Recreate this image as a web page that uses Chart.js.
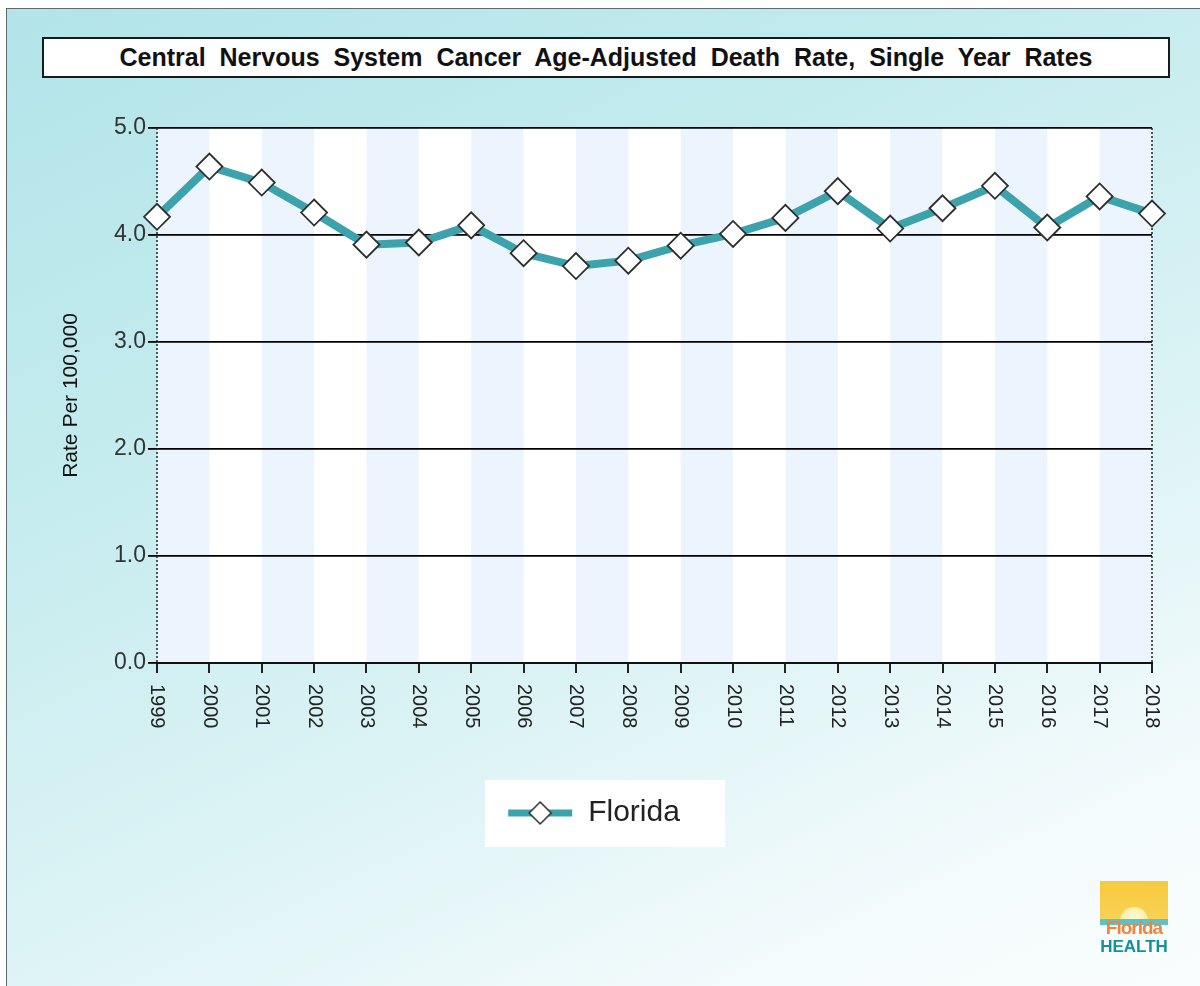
<!DOCTYPE html>
<html>
<head>
<meta charset="utf-8">
<script src="https://cdn.jsdelivr.net/npm/chart.js@4.4.1/dist/chart.umd.min.js"></script>
<style>
  html, body { margin:0; padding:0; width:1200px; height:986px; overflow:hidden; background:#fff; }
  #frame { position:absolute; left:6px; top:8px; width:1210px; height:1000px; border:1px solid #5d6b6e;
    background: linear-gradient(155deg, #b2e4e9 0%, #c3ebee 30%, #dcf3f5 60%, #f4fbfc 85%, #fafdfd 100%); }
  #c { position:absolute; left:0; top:0; z-index:1; }
  #title { position:absolute; left:42px; top:37px; width:1128px; height:41px; box-sizing:border-box;
    border:2px solid #1a1a1a; background:#fff; z-index:2; text-align:center; color:#111;
    font: bold 25px 'Liberation Sans', Arial, sans-serif; line-height:37px; word-spacing:7px; }
  #logo { position:absolute; left:1100px; top:881px; width:68px; height:78px; z-index:2; }
  #logo .sq { position:absolute; left:0; top:0; width:68px; height:44px; overflow:hidden;
    background: linear-gradient(180deg, #f7c93c 0%, #f9d45a 100%); }
  #logo .sun { position:absolute; left:20px; top:26px; width:28px; height:28px; border-radius:50%;
    background: radial-gradient(circle, #fffbe8 0%, #fff1b0 60%, #fbe08a 100%); }
  #logo .sea { position:absolute; left:0; top:38px; width:68px; height:6px; background:#58c3cf; }
  #logo .t1 { position:absolute; left:0; top:37px; width:68px; text-align:center; color:#f0843c;
    font: bold 19px 'Liberation Sans Narrow', 'Liberation Sans', Arial, sans-serif; letter-spacing:-1px; line-height:20px; }
  #logo .t2 { position:absolute; left:0; top:57px; width:68px; text-align:center; color:#13909a;
    font: bold 17px 'Liberation Sans Narrow', 'Liberation Sans', Arial, sans-serif; line-height:18px; }
</style>
</head>
<body>
<div id="frame"></div>
<div id="title">Central Nervous System Cancer Age-Adjusted Death Rate, Single Year Rates</div>
<canvas id="c" width="1200" height="986"></canvas>
<div id="logo"><div class="sq"><div class="sun"></div><div class="sea"></div></div><div class="t1">Florida</div><div class="t2">HEALTH</div></div>
<script>
// ---- data ----
const years = ['1999','2000','2001','2002','2003','2004','2005','2006','2007','2008',
               '2009','2010','2011','2012','2013','2014','2015','2016','2017','2018'];
const floridaRates = [4.17, 4.64, 4.49, 4.21, 3.91, 3.93, 4.09, 3.83, 3.71, 3.76,
                      3.90, 4.01, 4.16, 4.41, 4.06, 4.25, 4.46, 4.07, 4.36, 4.20];
const yTickValues = [0, 1, 2, 3, 4, 5];
const seriesName = 'Florida';
const yAxisTitle = 'Rate Per 100,000';

// ---- styles ----
const FONT = "'Liberation Sans', Arial, sans-serif";
const LINE_COLOR = '#3ca3ad';
const MARK_BORDER = '#2e2e2e';
const STRIPE = '#ecf4fd';
const LEG_FS = 30, LEG_PAD = 20, LEG_W = 101;

function legendGlyph() {
  const c = document.createElement('canvas');
  c.width = LEG_W; c.height = 30;
  const g = c.getContext('2d');
  g.strokeStyle = LINE_COLOR; g.lineWidth = 7;
  g.beginPath(); g.moveTo(36, 15); g.lineTo(100, 15); g.stroke();
  g.beginPath(); g.moveTo(68, 4); g.lineTo(79, 15); g.lineTo(68, 26); g.lineTo(57, 15); g.closePath();
  g.fillStyle = '#fff'; g.fill(); g.strokeStyle = MARK_BORDER; g.lineWidth = 1.5; g.stroke();
  return c;
}
const glyph = legendGlyph();

function dotted(ctx, x, y0, y1) {
  ctx.save();
  ctx.strokeStyle = '#222'; ctx.lineWidth = 1.5; ctx.setLineDash([2, 2]);
  ctx.beginPath(); ctx.moveTo(x, y0); ctx.lineTo(x, y1); ctx.stroke();
  ctx.restore();
}

const decor = {
  id: 'decor',
  beforeDraw(chart) {
    const {ctx, chartArea: a, scales: {x}} = chart;
    ctx.save();
    ctx.fillStyle = '#fff';
    ctx.fillRect(a.left, a.top, a.right - a.left, a.bottom - a.top);
    ctx.fillStyle = STRIPE;
    for (let i = 0; i < years.length - 1; i += 2) {
      const x0 = x.getPixelForValue(i), x1 = x.getPixelForValue(i + 1);
      ctx.fillRect(x0, a.top, x1 - x0, a.bottom - a.top);
    }
    // legend background box
    const lg = chart.legend;
    ctx.font = LEG_FS + 'px ' + FONT;
    const tw = ctx.measureText(seriesName).width;
    const lineW = LEG_W + LEG_FS / 2 + tw + LEG_PAD;
    const cx = (lg.left + LEG_PAD + lg.right - lineW) / 2;
    const textStart = cx + LEG_W + LEG_FS / 2;
    ctx.fillStyle = '#fff';
    ctx.fillRect(textStart - 103, lg.top + 2, 240, 67);
    ctx.restore();
  },
  beforeDatasetsDraw(chart) {
    const {ctx, chartArea: a} = chart;
    dotted(ctx, a.left, a.top, a.bottom);
    dotted(ctx, a.right, a.top, a.bottom);
  },
  afterDraw(chart) {
    const {ctx, chartArea: a, scales: {x}} = chart;
    ctx.save();
    // x tick labels, rotated to read top-to-bottom
    ctx.fillStyle = '#222';
    ctx.font = '20px ' + FONT;
    ctx.textAlign = 'left'; ctx.textBaseline = 'middle';
    years.forEach((lab, i) => {
      const px = x.getPixelForValue(i);
      ctx.save();
      ctx.translate(px, a.bottom + 21);
      ctx.rotate(Math.PI / 2);
      ctx.fillText(lab, 0, 0);
      ctx.restore();
    });
    ctx.restore();
  }
};

new Chart(document.getElementById('c'), {
  type: 'line',
  data: {
    labels: years,
    datasets: [{
      label: seriesName,
      data: floridaRates,
      borderColor: LINE_COLOR,
      borderWidth: 8,
      tension: 0,
      pointStyle: 'rectRot',
      pointRadius: 13,
      pointBackgroundColor: '#fff',
      pointBorderColor: MARK_BORDER,
      pointBorderWidth: 1.8,
      clip: false
    }]
  },
  options: {
    responsive: false,
    animation: false,
    layout: { padding: { left: 0, top: 128, right: 48, bottom: 148 } },
    plugins: {
      tooltip: { enabled: false },
      legend: {
        position: 'bottom',
        labels: {
          usePointStyle: true,
          pointStyleWidth: LEG_W,
          padding: LEG_PAD,
          color: '#222',
          font: { family: FONT, size: LEG_FS },
          generateLabels: () => [{ text: seriesName, pointStyle: glyph, fontColor: '#222',
            fillStyle: 'rgba(0,0,0,0)', strokeStyle: 'rgba(0,0,0,0)', lineWidth: 0, hidden: false, datasetIndex: 0 }]
        }
      }
    },
    scales: {
      x: {
        offset: false,
        grid: { drawOnChartArea: false, drawTicks: true, tickLength: 10, color: '#222', lineWidth: 2 },
        border: { color: '#111', width: 2 },
        ticks: { display: false },
        afterFit: s => { s.height = 115; }
      },
      y: {
        min: yTickValues[0],
        max: yTickValues[yTickValues.length - 1],
        afterBuildTicks: s => { s.ticks = yTickValues.map(v => ({ value: v })); },
        grid: { color: '#000', lineWidth: 1.8, drawTicks: true, tickLength: 9 },
        border: { display: false },
        ticks: { padding: 2, color: '#333', font: { family: FONT, size: 23 },
                 callback: v => Number(v).toFixed(1) },
        title: { display: true, text: yAxisTitle, color: '#111', font: { family: FONT, size: 21 },
                 padding: { top: 59, bottom: 0 } },
        afterFit: s => { s.width = 157; }
      }
    }
  },
  plugins: [decor]
});
</script>
</body>
</html>
